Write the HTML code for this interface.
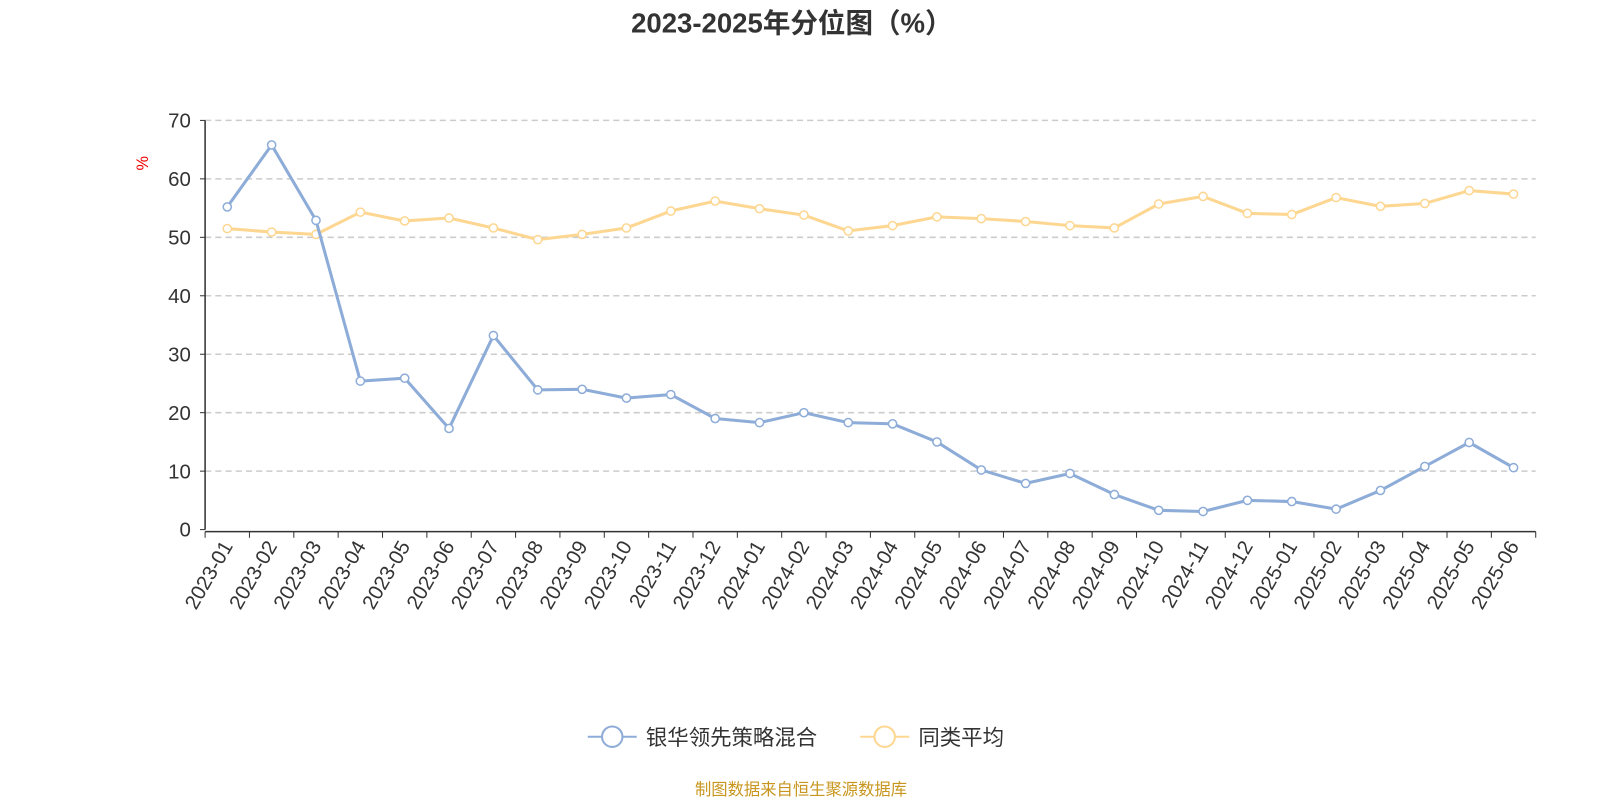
<!DOCTYPE html>
<html><head><meta charset="utf-8"><style>
body{margin:0;background:#fff;font-family:"Liberation Sans","Noto Sans CJK SC",sans-serif}
svg{display:block}
</style></head><body>
<svg width="1600" height="800" viewBox="0 0 1568 784" xmlns="http://www.w3.org/2000/svg" font-family="Liberation Sans, Noto Sans CJK SC, sans-serif">
<text x="776" y="32" text-anchor="middle" font-size="27" font-weight="bold" fill="#333">2023-2025年分位图（%）</text>
<text x="0" y="0" transform="translate(145,160) rotate(-90)" text-anchor="middle" font-size="16" fill="#e00">%</text>
<g id="grid"></g><g id="axes"></g><g id="series"></g>
<g>
<g><line x1="576" y1="722" x2="624" y2="722" stroke="#8eacd8" stroke-width="2"/><circle cx="600" cy="722" r="10" fill="#fff" stroke="#8eacd8" stroke-width="2"/><text x="633" y="730" font-size="21" fill="#333">银华领先策略混合</text></g>
<g><line x1="843" y1="722" x2="891" y2="722" stroke="#fdd792" stroke-width="2"/><circle cx="867" cy="722" r="10" fill="#fff" stroke="#fdd792" stroke-width="2"/><text x="900" y="730" font-size="21" fill="#333">同类平均</text></g>
</g>
<text x="785" y="779" text-anchor="middle" font-size="16" fill="#c8961e">制图数据来自恒生聚源数据库</text>
</svg>
<script>
const categories=["2023-01","2023-02","2023-03","2023-04","2023-05","2023-06","2023-07","2023-08","2023-09","2023-10","2023-11","2023-12","2024-01","2024-02","2024-03","2024-04","2024-05","2024-06","2024-07","2024-08","2024-09","2024-10","2024-11","2024-12","2025-01","2025-02","2025-03","2025-04","2025-05","2025-06"];
const fundValues=[55.2,65.8,52.9,25.4,25.9,17.3,33.2,23.9,24.0,22.5,23.1,19.0,18.3,20.0,18.3,18.1,15.0,10.2,7.9,9.6,6.0,3.3,3.1,5.0,4.8,3.5,6.7,10.8,14.9,10.6];
const avgValues=[51.5,50.9,50.5,54.3,52.8,53.3,51.6,49.6,50.5,51.6,54.5,56.2,54.9,53.8,51.1,52.0,53.5,53.2,52.7,52.0,51.6,55.7,57.0,54.1,53.9,56.8,55.3,55.8,58.0,57.4];
const yTicks=[0,10,20,30,40,50,60,70];
const NS="http://www.w3.org/2000/svg";
const X0=201,X1=1505,Y0=519,Y1=118,YMAX=70;
const bw=(X1-X0)/categories.length;
const xs=i=>X0+bw*(i+0.5);
const ys=v=>Y0-(v/YMAX)*(Y0-Y1);
function mk(tag,attrs,parent){const e=document.createElementNS(NS,tag);for(const k in attrs)e.setAttribute(k,attrs[k]);parent.appendChild(e);return e;}
const grid=document.getElementById('grid'),axes=document.getElementById('axes'),ser=document.getElementById('series');
yTicks.forEach(t=>{
 if(t>0){const g=mk('line',{x1:X0,x2:X1,y1:ys(t),y2:ys(t),stroke:'#ccc','stroke-dasharray':'6,4','stroke-width':1.5},grid);
 
 }
 const tk=mk('line',{x1:X0-5,x2:X0,y1:ys(t),y2:ys(t),stroke:'#333'},axes);
 
 
 const l=mk('text',{x:X0-14,y:ys(t)+7,'text-anchor':'end','font-size':20,fill:'#333'},axes);l.textContent=t;
 
 
});
const ya=mk('line',{x1:X0,x2:X0,y1:Y1,y2:Y0,stroke:'#333','stroke-width':1.5},axes);


const xa=mk('line',{x1:X0,x2:X1,y1:Y0+2,y2:Y0+2,stroke:'#333','stroke-width':1.5},axes);


for(let i=0;i<=categories.length;i++){const t=mk('line',{x1:X0+bw*i,x2:X0+bw*i,y1:Y0+2,y2:Y0+8,stroke:'#333'},axes);
 
 }
categories.forEach((c,i)=>{const x=xs(i)+6,y=Y0+16;
 const l=mk('text',{x:x,y:y,'text-anchor':'end','font-size':20,fill:'#333',transform:`rotate(-60 ${x} ${y})`},axes);l.textContent=c;
 
 });
function draw(vals,color,name){
 const p=mk('polyline',{points:vals.map((v,i)=>xs(i)+','+ys(v)).join(' '),fill:'none',stroke:color,'stroke-width':3,'stroke-linejoin':'round'},ser);
 
 
 vals.forEach((v,i)=>{const c=mk('circle',{cx:xs(i),cy:ys(v),r:4,fill:'#fff',stroke:color,'stroke-width':1.5},ser);
 
 });
}
draw(avgValues,'#fdd792','average');
draw(fundValues,'#8eacd8','fund');
</script>
</body></html>
